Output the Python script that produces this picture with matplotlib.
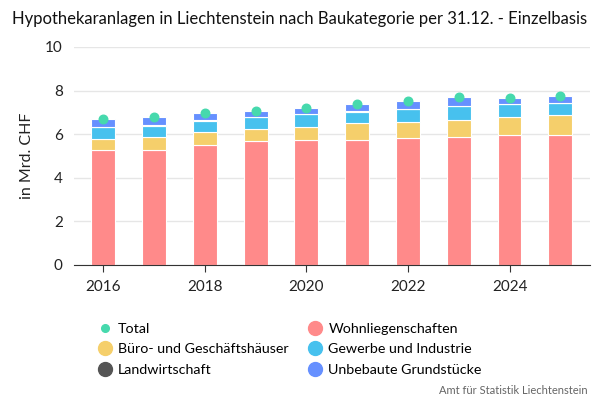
import matplotlib.pyplot as plt
import numpy as np
from matplotlib.lines import Line2D

plt.rcParams['font.family'] = ['Lato', 'DejaVu Sans']

# values, in Mrd. CHF
years = [2016, 2017, 2018, 2019, 2020, 2021, 2022, 2023, 2024, 2025]
wohn = [5.28, 5.26, 5.49, 5.67, 5.72, 5.72, 5.81, 5.86, 5.95, 5.95]
buero = [0.51, 0.60, 0.60, 0.55, 0.60, 0.78, 0.74, 0.78, 0.85, 0.92]
gewerbe = [0.54, 0.53, 0.53, 0.56, 0.59, 0.53, 0.59, 0.64, 0.57, 0.55]
landw = [0.02, 0.02, 0.05, 0.02, 0.02, 0.02, 0.02, 0.02, 0.02, 0.02]
unbebaut = [0.35, 0.38, 0.30, 0.26, 0.27, 0.33, 0.36, 0.41, 0.27, 0.31]

series = [
    ('Wohnliegenschaften', wohn, '#ff8a8a'),
    ('Büro- und Geschäftshäuser', buero, '#f5cf6b'),
    ('Gewerbe und Industrie', gewerbe, '#47c1ee'),
    ('Landwirtschaft', landw, '#555555'),
    ('Unbebaute Grundstücke', unbebaut, '#6690ff'),
]
total = np.sum([s[1] for s in series], axis=0)

fig = plt.figure(figsize=(6, 4), dpi=100)
ax = fig.add_axes([0.123, 0.3375, 0.86, 0.545])

bottom = np.zeros(len(years))
for name, vals, col in series:
    ax.bar(years, vals, bottom=bottom, width=0.47, color=col,
           edgecolor='white', linewidth=0.8, zorder=2)
    bottom += np.array(vals)

ax.scatter(years, total, s=38, color='#46d9ad', zorder=3)

ax.set_xlim(2015.42, 2025.58)
ax.set_ylim(0, 10)
ax.set_yticks([0, 2, 4, 6, 8, 10])
ax.set_xticks([2016, 2018, 2020, 2022, 2024])
ax.grid(axis='y', color='#e6e6e6', linewidth=1, zorder=0)
for s in ['top', 'right', 'left']:
    ax.spines[s].set_visible(False)
ax.spines['bottom'].set_color('#333333')
ax.tick_params(axis='y', length=0, labelsize=11, colors='#222222', pad=8)
ax.tick_params(axis='x', length=5, color='#333333', labelsize=11,
               colors='#222222', pad=6)
ax.set_ylabel('in Mrd. CHF', fontsize=11.5, color='#222222', labelpad=8)

fig.text(0.5, 0.952, 'Hypothekaranlagen in Liechtenstein nach Baukategorie per 31.12. - Einzelbasis',
         ha='center', va='center', fontsize=12, color='#111111')

# legend: left column first, then right column
order = ['Total', 'Büro- und Geschäftshäuser', 'Landwirtschaft',
         'Wohnliegenschaften', 'Gewerbe und Industrie', 'Unbebaute Grundstücke']
leg_handles = []
for name in order:
    if name == 'Total':
        leg_handles.append(Line2D([], [], marker='o', ls='', color='#46d9ad', markersize=5.5))
    else:
        col = [s[2] for s in series if s[0] == name][0]
        leg_handles.append(Line2D([], [], marker='o', ls='', color=col, markersize=10))
fig.legend(leg_handles, order, ncol=2, loc='upper left', bbox_to_anchor=(0.152, 0.207),
           frameon=False, fontsize=10.3, handletextpad=0.35, columnspacing=1.35,
           labelspacing=0.58, handlelength=1.1, borderaxespad=0)

fig.text(0.98, 0.025, 'Amt für Statistik Liechtenstein', ha='right', va='center',
         fontsize=8, color='#666666')

fig.savefig('out.png', dpi=100)
